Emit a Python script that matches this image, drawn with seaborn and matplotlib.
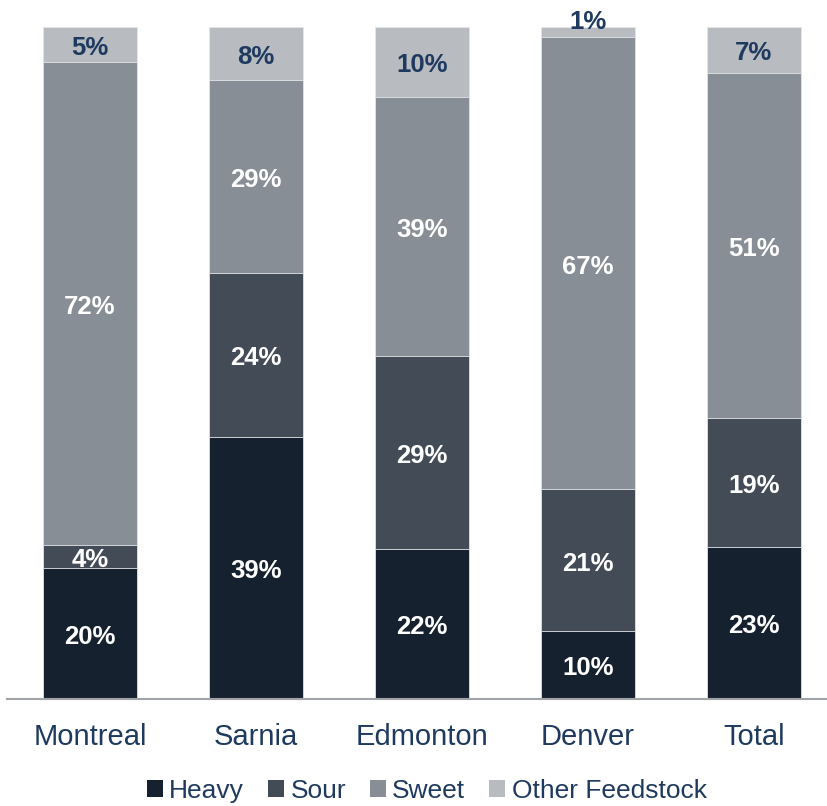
"""
Feedstock mix by refinery: 100% stacked bars with segment labels.
"""
import numpy as np
import pandas as pd
import matplotlib
matplotlib.use("Agg")
import matplotlib.pyplot as plt
from matplotlib.patches import Patch
import seaborn as sns

# Data (shares, labels as printed)
sites = ["Montreal", "Sarnia", "Edmonton", "Denver", "Total"]
heavy = [19.5, 39.0, 22.3, 10.1, 22.6]
sour = [3.4, 24.4, 28.7, 21.1, 19.2]
sweet = [71.9, 28.7, 38.6, 67.3, 51.4]
other = [5.2, 7.9, 10.4, 1.5, 6.8]

heavy_lbl = [20, 39, 22, 10, 23]
sour_lbl = [4, 24, 29, 21, 19]
sweet_lbl = [72, 29, 39, 67, 51]
other_lbl = [5, 8, 10, 1, 7]

series = ["Heavy", "Sour", "Sweet", "Other Feedstock"]
colors = ["#162130", "#434b57", "#888e96", "#b8bbc0"]
navy = "#1f3a5f"

sns.set_theme(style="white")
plt.rcParams["font.family"] = ["Liberation Sans", "DejaVu Sans"]

df = pd.DataFrame({"site": sites, "Heavy": heavy, "Sour": sour,
                   "Sweet": sweet, "Other Feedstock": other})
layers = [df[s].to_numpy() for s in series]
cum = np.cumsum(layers, axis=0)

fig = plt.figure(figsize=(8.27, 8.06), dpi=100)
ax = fig.add_axes([7 / 827, 107 / 806, 820 / 827, 672 / 806])

# draw cumulative totals from the top layer down so each bar covers the one behind
for i in range(len(series) - 1, -1, -1):
    sns.barplot(x=df["site"], y=cum[i], color=colors[i], width=0.57,
                edgecolor="#e4e6e8", linewidth=0.6, saturation=1, ax=ax)

labels = [heavy_lbl, sour_lbl, sweet_lbl, other_lbl]
for i in range(len(series)):
    bottoms = cum[i] - layers[i]
    for j in range(len(sites)):
        h = layers[i][j]
        y = bottoms[j] + h / 2 - 0.5
        if h < 3:
            y = cum[i][j] + 0.7
        ax.text(j, y, f"{labels[i][j]}%", ha="center", va="center",
                fontsize=18.5, fontweight="bold",
                color=navy if i == 3 else "white", clip_on=False)

ax.set_ylim(0, 100)
ax.set_xlim(-0.5, 4.44)
ax.set_xlabel("")
ax.set_ylabel("")
ax.set_yticks([])
ax.tick_params(axis="x", length=0, pad=17, labelsize=21, labelcolor=navy)
sns.despine(ax=ax, left=True)
ax.spines["bottom"].set_color("#a0a4a8")
ax.spines["bottom"].set_linewidth(1.5)

handles = [Patch(facecolor=c, edgecolor="none", label=s) for s, c in zip(series, colors)]
fig.legend(handles=handles, loc="center", bbox_to_anchor=(0.516, 0.019), ncol=4,
           frameon=False, fontsize=19, labelcolor=navy, handlelength=0.6,
           handleheight=0.6, handletextpad=0.25, columnspacing=0.9)

fig.savefig("out.png", dpi=100)
